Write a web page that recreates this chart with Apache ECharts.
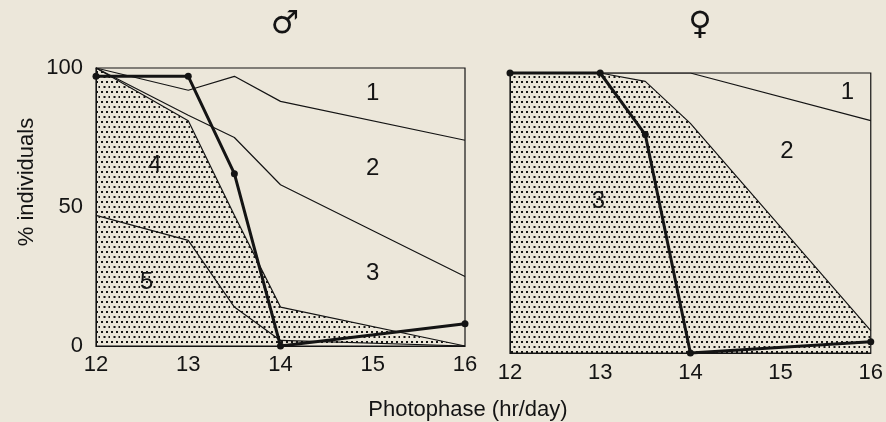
<!DOCTYPE html>
<html>
<head>
<meta charset="utf-8">
<title>Photophase</title>
<script src="https://cdn.jsdelivr.net/npm/echarts@6/dist/echarts.min.js"></script>
<style>
    html, body{
        margin: 0;
        padding: 0;
        background-color: #ece7da;
    }
    #chart{
        width: 886px;
        height: 422px;
    }
</style>
</head>
<body>
<div id="chart"></div>
<script>
    // photophase (hr/day)
    var hours = [12, 13, 13.5, 14, 16];
    // males: upper edge of each class, cumulative % individuals
    var maleEdge1 = [100, 92, 97, 88, 74];
    var maleEdge2 = [100, 83, 75, 58, 25];
    var maleEdge3 = [100, 81, 47, 14, 0];
    var maleEdge4 = [47, 38, 14, 2, 0];
    var maleLine = [97, 97, 62, 0, 8];
    // females
    var femaleEdge1 = [100, 100, 100, 100, 83];
    var femaleEdge2 = [100, 100, 97, 82, 8];
    var femaleLine = [100, 100, 78, 0, 4];
    // class numbers: [text, hour, %]
    var maleClassLabels = [['1', 15, 91], ['2', 15, 64], ['3', 15, 26], ['4', 12.64, 65], ['5', 12.55, 23]];
    var femaleClassLabels = [['1', 15.74, 93], ['2', 15.07, 72], ['3', 12.98, 54]];
    var xTicks = [12, 13, 14, 15, 16];
    var yTicks = [0, 50, 100];

    var ink = '#141414';
    var font = '"Liberation Sans", Arial, sans-serif';

    function pts(xs, ys) {
        return xs.map(function (x, i) { return [x, ys[i]]; });
    }

    // dotted fill tile
    var tile = document.createElement('canvas');
    tile.width = 10;
    tile.height = 10;
    var tc = tile.getContext('2d');
    tc.fillStyle = '#151515';
    [[1, 1], [6, 1], [3.5, 6], [8.5, 6]].forEach(function (p) {
        tc.fillRect(p[0], p[1], 2, 2);
    });
    var dots = { image: tile, repeat: 'repeat' };

    function edge(data, idx, fill) {
        var s = {
            type: 'line',
            xAxisIndex: idx,
            yAxisIndex: idx,
            data: data,
            showSymbol: false,
            silent: true,
            lineStyle: { color: ink, width: 1.2 },
            z: 2
        };
        if (fill) {
            s.areaStyle = { color: dots, opacity: 1 };
            s.z = 1;
        }
        return s;
    }

    function thick(data, idx) {
        return {
            type: 'line',
            xAxisIndex: idx,
            yAxisIndex: idx,
            data: data,
            symbol: 'circle',
            symbolSize: 7,
            clip: false,
            itemStyle: { color: ink },
            lineStyle: { color: ink, width: 3 },
            z: 5
        };
    }

    function xAxisOf(idx, margin) {
        return {
            type: 'value',
            gridIndex: idx,
            min: 12,
            max: 16,
            interval: 1,
            axisLine: { show: true, lineStyle: { color: ink, width: 1 } },
            axisTick: { show: false },
            splitLine: { show: false },
            axisLabel: {
                customValues: xTicks,
                color: ink,
                fontSize: 22,
                fontFamily: font,
                margin: margin
            }
        };
    }

    var myChart = echarts.init(document.getElementById('chart'));
    var option = {
        backgroundColor: '#ece7da',
        animation: false,
        grid: [
            { left: 96, top: 68, width: 369, height: 278, show: true, borderColor: ink, borderWidth: 1.2, backgroundColor: 'transparent' },
            { left: 510, top: 73, width: 367, height: 280, show: true, borderColor: ink, borderWidth: 1.2, backgroundColor: 'transparent' }
        ],
        xAxis: [xAxisOf(0, 8), xAxisOf(1, 9)],
        yAxis: [
            {
                type: 'value', gridIndex: 0, min: 0, max: 100, interval: 50,
                axisLine: { show: true, lineStyle: { color: ink, width: 1 } },
                axisTick: { show: false },
                splitLine: { show: false },
                axisLabel: { customValues: yTicks, color: ink, fontSize: 22, fontFamily: font, margin: 13 }
            },
            {
                type: 'value', gridIndex: 1, min: 0, max: 100, interval: 50,
                axisLine: { show: true, lineStyle: { color: ink, width: 1 } },
                axisTick: { show: false },
                splitLine: { show: false },
                axisLabel: { show: false }
            }
        ],
        series: [
            edge(pts(hours, maleEdge3), 0, true),
            edge(pts(hours, maleEdge4), 0),
            edge(pts(hours, maleEdge2), 0),
            edge(pts(hours, maleEdge1), 0),
            thick(pts(hours, maleLine), 0),
            edge(pts(hours, femaleEdge2), 1, true),
            edge(pts(hours, femaleEdge1), 1),
            thick(pts(hours, femaleLine), 1)
        ],
        graphic: [
            {
                type: 'text', x: 27, y: 182, rotation: Math.PI / 2,
                style: { text: '% individuals', fill: ink, fontSize: 22, fontFamily: font, align: 'center', verticalAlign: 'middle' }
            },
            {
                type: 'text', x: 468, y: 410,
                style: { text: 'Photophase (hr/day)', fill: ink, fontSize: 22, fontFamily: font, align: 'center', verticalAlign: 'middle' }
            },
            {
                type: 'text', x: 285, y: 25,
                style: { text: '\u2642', fill: ink, fontSize: 32, fontFamily: '"DejaVu Sans", sans-serif', align: 'center', verticalAlign: 'middle' }
            },
            {
                type: 'text', x: 700, y: 26,
                style: { text: '\u2640', fill: ink, fontSize: 32, fontFamily: '"DejaVu Sans", sans-serif', align: 'center', verticalAlign: 'middle' }
            }
        ]
    };
    myChart.setOption(option);

    // class numbers placed through the axes' own scales
    var classGraphics = [];
    [[maleClassLabels, 0], [femaleClassLabels, 1]].forEach(function (g) {
        g[0].forEach(function (d) {
            var p = myChart.convertToPixel({ gridIndex: g[1] }, [d[1], d[2]]);
            classGraphics.push({
                type: 'text', x: p[0], y: p[1], z: 10,
                style: { text: d[0], fill: ink, fontSize: 24, fontFamily: font, align: 'center', verticalAlign: 'middle' }
            });
        });
    });
    myChart.setOption({ graphic: option.graphic.concat(classGraphics) });
</script>
</body>
</html>
